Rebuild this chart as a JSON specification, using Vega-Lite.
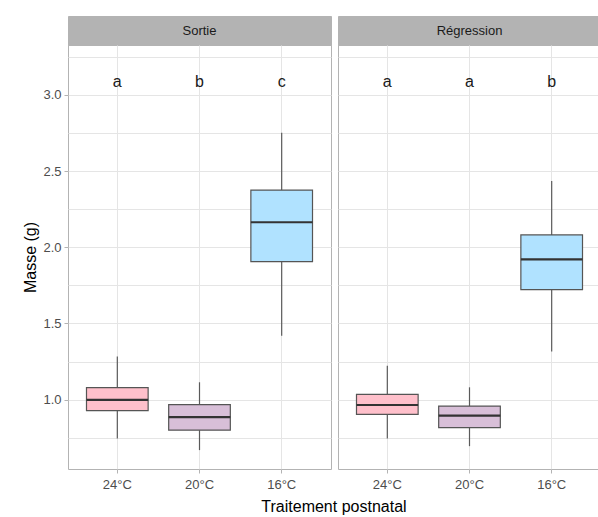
{
  "$schema": "https://vega.github.io/schema/vega-lite/v6.json",
  "padding": {"left": 22, "top": 15, "right": 0, "bottom": 5},
  "config": {"font": "Liberation Sans", "view": {"stroke": "#b3b3b3"}},
  "datasets": {
    "boxes": [
      {"panel": "Sortie", "temp": "24°C", "lower": 0.745, "q1": 0.928, "median": 0.998, "q3": 1.079, "upper": 1.283, "letter": "a"},
      {"panel": "Sortie", "temp": "20°C", "lower": 0.669, "q1": 0.8, "median": 0.886, "q3": 0.967, "upper": 1.114, "letter": "b"},
      {"panel": "Sortie", "temp": "16°C", "lower": 1.419, "q1": 1.906, "median": 2.164, "q3": 2.375, "upper": 2.752, "letter": "c"},
      {"panel": "Régression", "temp": "24°C", "lower": 0.745, "q1": 0.903, "median": 0.965, "q3": 1.035, "upper": 1.222, "letter": "a"},
      {"panel": "Régression", "temp": "20°C", "lower": 0.695, "q1": 0.816, "median": 0.895, "q3": 0.958, "upper": 1.081, "letter": "a"},
      {"panel": "Régression", "temp": "16°C", "lower": 1.316, "q1": 1.722, "median": 1.921, "q3": 2.081, "upper": 2.434, "letter": "b"}
    ],
    "strip1": [{"label": "Sortie"}],
    "strip2": [{"label": "Régression"}]
  },
  "title": {"text": "Traitement postnatal", "orient": "bottom", "anchor": "middle", "frame": "bounds", "dx": 22, "fontSize": 16, "fontWeight": "normal", "color": "#000000", "offset": 7},
  "spacing": 5,
  "hconcat": [
    {
      "spacing": 0,
      "bounds": "flush",
      "vconcat": [
        {
          "data": {"name": "strip1"},
          "width": 263, "height": 29,
          "view": {"fill": "#b3b3b3", "stroke": "#b3b3b3"},
          "mark": {"type": "text", "fontSize": 13, "color": "#1a1a1a"},
          "encoding": {"text": {"field": "label"}}
        },
        {
          "data": {"name": "boxes"},
          "transform": [{"filter": "datum.panel === 'Sortie'"}],
          "width": 263, "height": 424,
          "view": {"stroke": "#b3b3b3", "strokeWidth": 1},
          "encoding": {
            "x": {"field": "temp", "type": "nominal", "sort": ["24°C", "20°C", "16°C"],
                  "scale": {"paddingInner": 0, "paddingOuter": 0.1},
                  "axis": {"title": null, "labelAngle": 0, "bandPosition": 0.5, "grid": true, "gridColor": "#e5e5e5", "domain": false, "tickSize": 4, "tickColor": "#b3b3b3", "labelColor": "#4d4d4d", "labelFontSize": 13, "labelPadding": 5}}
          },
          "layer": [
            {
              "mark": {"type": "rule", "color": "#5a5a5a", "strokeWidth": 1.2},
              "encoding": {
                "y": {"field": "lower", "type": "quantitative",
                      "scale": {"domain": [0.545, 3.327], "nice": false, "zero": false},
                      "axis": {"title": "Masse (g)", "titleFontSize": 16, "titleFontWeight": "normal", "titleColor": "#000000", "titlePadding": 4,
                               "values": [0.75, 1, 1.25, 1.5, 1.75, 2, 2.25, 2.5, 2.75, 3, 3.25],
                               "labelExpr": "datum.value % 0.5 === 0 ? format(datum.value, '.1f') : ''",
                               "labelColor": "#4d4d4d", "labelFontSize": 13, "labelPadding": 3, "labelOverlap": false,
                               "tickSize": 4, "tickColor": "#b3b3b3",
                               "tickOpacity": {"condition": {"test": "datum.value % 0.5 === 0", "value": 1}, "value": 0},
                               "domain": false, "grid": true, "gridColor": "#e5e5e5", "gridWidth": 1}},
                "y2": {"field": "upper"}
              }
            },
            {
              "mark": {"type": "bar", "width": {"band": 0.75}, "stroke": "#555555", "strokeWidth": 1.2, "opacity": 1},
              "encoding": {
                "y": {"field": "q1", "type": "quantitative", "axis": {"title": "Masse (g)"}},
                "y2": {"field": "q3"},
                "color": {"field": "temp", "type": "nominal", "scale": {"domain": ["24°C", "20°C", "16°C"], "range": ["#ffc0cb", "#d8bfd8", "#b0e2ff"]}, "legend": null}
              }
            },
            {
              "mark": {"type": "bar", "width": {"band": 0.75}, "stroke": "#333333", "strokeWidth": 2.2, "fill": "#333333", "opacity": 1},
              "encoding": {
                "y": {"field": "median", "type": "quantitative", "axis": {"title": "Masse (g)"}},
                "y2": {"field": "median"}
              }
            },
            {
              "mark": {"type": "text", "fontSize": 16, "color": "#1a1a1a", "baseline": "alphabetic"},
              "encoding": {
                "y": {"datum": 3.05, "type": "quantitative", "axis": {"title": "Masse (g)"}},
                "text": {"field": "letter"}
              }
            }
          ]
        }
      ]
    },
    {
      "spacing": 0,
      "bounds": "flush",
      "vconcat": [
        {
          "data": {"name": "strip2"},
          "width": 263, "height": 29,
          "view": {"fill": "#b3b3b3", "stroke": "#b3b3b3"},
          "mark": {"type": "text", "fontSize": 13, "color": "#1a1a1a"},
          "encoding": {"text": {"field": "label"}}
        },
        {
          "data": {"name": "boxes"},
          "transform": [{"filter": "datum.panel === 'Régression'"}],
          "width": 263, "height": 424,
          "view": {"stroke": "#b3b3b3", "strokeWidth": 1},
          "encoding": {
            "x": {"field": "temp", "type": "nominal", "sort": ["24°C", "20°C", "16°C"],
                  "scale": {"paddingInner": 0, "paddingOuter": 0.1},
                  "axis": {"title": null, "labelAngle": 0, "bandPosition": 0.5, "grid": true, "gridColor": "#e5e5e5", "domain": false, "tickSize": 4, "tickColor": "#b3b3b3", "labelColor": "#4d4d4d", "labelFontSize": 13, "labelPadding": 5}}
          },
          "layer": [
            {
              "mark": {"type": "rule", "color": "#5a5a5a", "strokeWidth": 1.2},
              "encoding": {
                "y": {"field": "lower", "type": "quantitative",
                      "scale": {"domain": [0.545, 3.327], "nice": false, "zero": false},
                      "axis": {"title": null, "labels": false, "ticks": false, "domain": false,
                               "values": [0.75, 1, 1.25, 1.5, 1.75, 2, 2.25, 2.5, 2.75, 3, 3.25],
                               "grid": true, "gridColor": "#e5e5e5", "gridWidth": 1}},
                "y2": {"field": "upper"}
              }
            },
            {
              "mark": {"type": "bar", "width": {"band": 0.75}, "stroke": "#555555", "strokeWidth": 1.2, "opacity": 1},
              "encoding": {
                "y": {"field": "q1", "type": "quantitative", "axis": {"title": null}},
                "y2": {"field": "q3"},
                "color": {"field": "temp", "type": "nominal", "scale": {"domain": ["24°C", "20°C", "16°C"], "range": ["#ffc0cb", "#d8bfd8", "#b0e2ff"]}, "legend": null}
              }
            },
            {
              "mark": {"type": "bar", "width": {"band": 0.75}, "stroke": "#333333", "strokeWidth": 2.2, "fill": "#333333", "opacity": 1},
              "encoding": {
                "y": {"field": "median", "type": "quantitative", "axis": {"title": null}},
                "y2": {"field": "median"}
              }
            },
            {
              "mark": {"type": "text", "fontSize": 16, "color": "#1a1a1a", "baseline": "alphabetic"},
              "encoding": {
                "y": {"datum": 3.05, "type": "quantitative", "axis": {"title": null}},
                "text": {"field": "letter"}
              }
            }
          ]
        }
      ]
    }
  ]
}
